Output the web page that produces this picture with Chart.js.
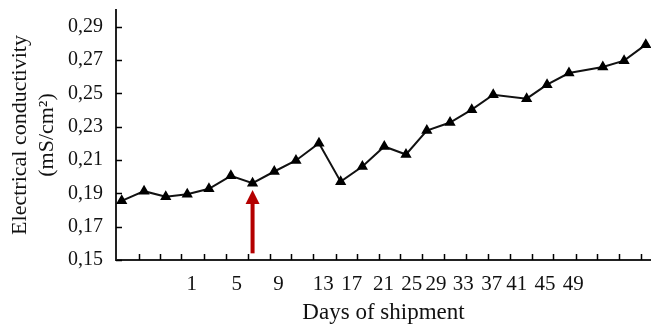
<!DOCTYPE html>
<html>
<head>
<meta charset="utf-8">
<script src="https://cdn.jsdelivr.net/npm/chart.js@4/dist/chart.umd.min.js"></script>
<style>
  html, body { margin: 0; padding: 0; background: #fff; }
</style>
</head>
<body>
<canvas id="grafico" width="651" height="327"></canvas>
<script>
// ===============================
// DATOS
// ===============================
// posición de cada muestra en el eje horizontal (unidades del eje)
const puntosX = [0, 1.03, 2.03, 3.02, 4.02, 5.03, 6.03, 7.03, 8.03, 9.09, 10.09, 11.09,
  12.1, 13.1, 14.06, 15.13, 16.13, 17.12, 18.66, 19.6, 20.61, 22.17, 23.15, 24.15];
// conductividad eléctrica (mS/cm²)
const conductividad = [0.1855, 0.1913, 0.188, 0.1895, 0.1927, 0.2005, 0.1961, 0.2031,
  0.2097, 0.2201, 0.197, 0.2061, 0.2181, 0.2133, 0.2277, 0.2325, 0.2402, 0.2492,
  0.2468, 0.2552, 0.2622, 0.2658, 0.2696, 0.2792];
// etiquetas del eje X y dónde aparecen
const etiquetasX = ["1", "5", "9", "13", "17", "21", "25", "29", "33", "37", "41", "45", "49"];
const posEtiquetasX = [3.23, 5.3, 7.22, 9.29, 10.6, 12.06, 13.36, 14.48, 15.74, 17.05, 18.2, 19.51, 20.81];
// marcas cortas sobre el eje X
const marcasX = [0.8, 1.76, 2.73, 3.81, 4.79, 5.81, 6.83, 7.8, 8.83, 9.86, 10.83, 11.86,
  12.82, 13.84, 14.87, 15.85, 16.89, 17.89, 18.89, 19.89, 20.92, 21.89, 22.93, 23.93];
const marcasY = [0.15, 0.17, 0.19, 0.21, 0.23, 0.25, 0.27, 0.29];
// flecha roja: muestra señalada y rango vertical
const flecha = { indice: 6, desde: 0.154, hasta: 0.192 };

const fuente = "'Liberation Serif', 'Times New Roman', serif";

// ===============================
// PLUGIN: marcas hacia dentro + flecha
// ===============================
const extras = {
  id: "extras",
  afterDatasetsDraw(chart) {
    const ctx = chart.ctx;
    const x = chart.scales.x;
    const y = chart.scales.y;
    const area = chart.chartArea;
    ctx.save();
    ctx.strokeStyle = "#000";
    ctx.lineWidth = 1.5;
    ctx.beginPath();
    marcasY.forEach((v) => {
      const py = Math.round(y.getPixelForValue(v)) + 0.5;
      ctx.moveTo(area.left, py);
      ctx.lineTo(area.left + 6, py);
    });
    marcasX.forEach((v) => {
      const px = Math.round(x.getPixelForValue(v)) + 0.5;
      ctx.moveTo(px, area.bottom);
      ctx.lineTo(px, area.bottom - 6);
    });
    ctx.stroke();

    // flecha roja
    const fx = x.getPixelForValue(puntosX[flecha.indice]);
    const base = y.getPixelForValue(flecha.desde);
    const punta = y.getPixelForValue(flecha.hasta);
    ctx.fillStyle = "#b40000";
    ctx.fillRect(fx - 2, punta + 12, 4, base - punta - 12);
    ctx.beginPath();
    ctx.moveTo(fx, punta);
    ctx.lineTo(fx - 7, punta + 14);
    ctx.lineTo(fx + 7, punta + 14);
    ctx.closePath();
    ctx.fill();
    ctx.restore();
  },
};

// ===============================
// GRÁFICO
// ===============================
new Chart(document.getElementById("grafico"), {
  type: "line",
  data: {
    datasets: [
      {
        data: puntosX.map((px, i) => ({ x: px, y: conductividad[i] })),
        borderColor: "#111",
        borderWidth: 2,
        backgroundColor: "#000",
        pointStyle: "triangle",
        pointRadius: 4.5,
        pointBackgroundColor: "#000",
        pointBorderColor: "#000",
        tension: 0,
        clip: false,
      },
    ],
  },
  options: {
    responsive: false,
    animation: false,
    devicePixelRatio: 1,
    layout: { autoPadding: false, padding: { top: 10, right: 0, bottom: 0, left: 0 } },
    plugins: { legend: { display: false }, tooltip: { enabled: false } },
    scales: {
      x: {
        type: "linear",
        min: -0.263,
        max: 24.39,
        afterBuildTicks: (s) => {
          s.ticks = posEtiquetasX.map((v) => ({ value: v }));
        },
        afterFit: (s) => {
          s.height = 67;
          s.paddingLeft = 0;
          s.paddingRight = 0;
        },
        ticks: {
          autoSkip: false,
          maxRotation: 0,
          padding: 12,
          color: "#111",
          font: { family: fuente, size: 21 },
          callback: (v, i) => etiquetasX[i],
        },
        grid: { display: false, drawTicks: false },
        border: { display: true, color: "#222", width: 2 },
        title: {
          display: true,
          text: "Days of shipment",
          color: "#111",
          font: { family: fuente, size: 23 },
          padding: { top: 0, bottom: 0 },
        },
      },
      y: {
        min: 0.15,
        max: 0.3,
        afterBuildTicks: (s) => {
          s.ticks = marcasY.map((v) => ({ value: v }));
        },
        afterFit: (s) => {
          s.width = 116;
          s.paddingTop = 0;
          s.paddingBottom = 0;
        },
        ticks: {
          padding: 13,
          color: "#111",
          font: { family: fuente, size: 20 },
          callback: (v) => v.toFixed(2).replace(".", ","),
        },
        grid: { display: false, drawTicks: false },
        border: { display: true, color: "#222", width: 2 },
        title: {
          display: true,
          text: ["Electrical conductivity", "(mS/cm²)"],
          color: "#111",
          font: { family: fuente, size: 22, lineHeight: 1.25 },
          padding: { top: 6, bottom: 0 },
        },
      },
    },
  },
  plugins: [extras],
});
</script>
</body>
</html>
